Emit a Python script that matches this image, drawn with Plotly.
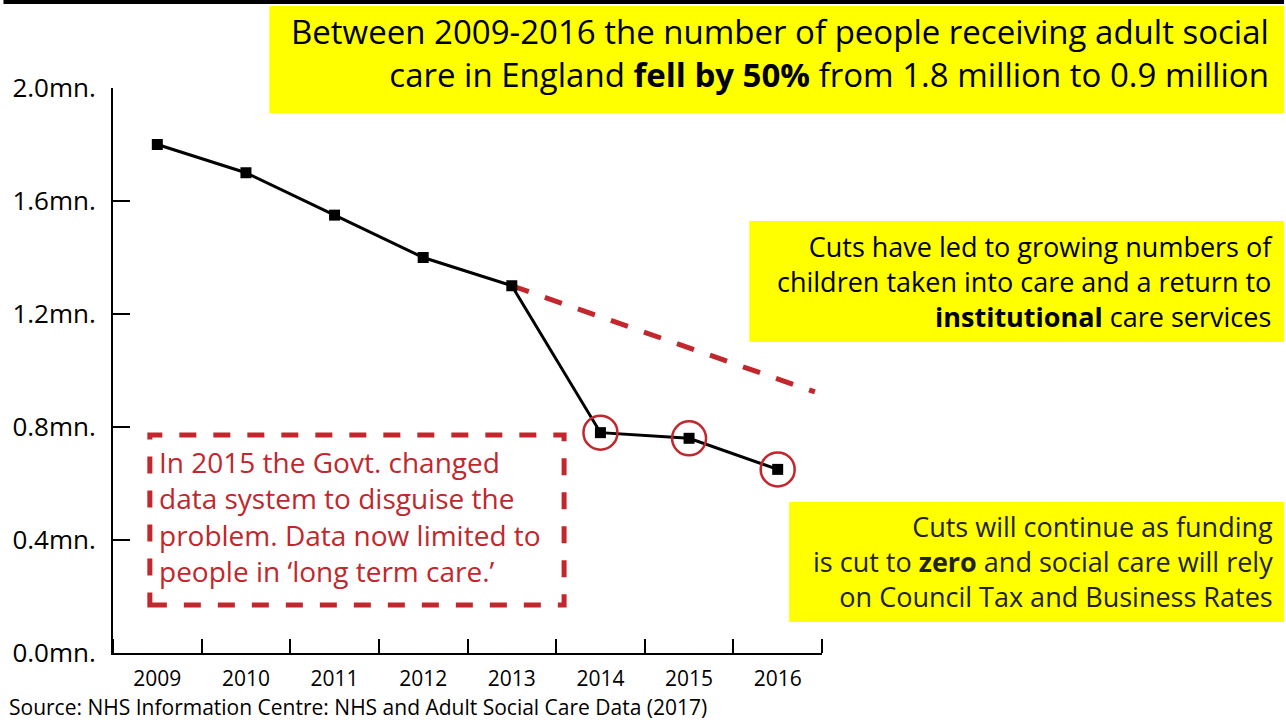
import plotly.graph_objects as go

# ---- data ----
years = [2009, 2010, 2011, 2012, 2013, 2014, 2015, 2016]
people_mn = [1.80, 1.70, 1.55, 1.40, 1.30, 0.78, 0.76, 0.65]
trend_years = [2013, 2016.42]
trend_mn = [1.30, 0.924]
circled_years = [2014, 2015, 2016]
circled_mn = [0.78, 0.76, 0.65]
ytick_vals = [0.0, 0.4, 0.8, 1.2, 1.6, 2.0]
ytick_text = ["0.0mn.", "0.4mn.", "0.8mn.", "1.2mn.", "1.6mn.", "2.0mn."]
xtick_text = [str(y) for y in years]

RED = "#C1272D"
YELLOW = "#FFFF00"
FONT = "Open Sans"

W, H = 1286, 722
L, R, T, B = 110, 464, 88, 69


def px(x):
    return (x - L) / (W - L - R)


def py(y):
    return (H - B - y) / (H - T - B)


fig = go.Figure()

fig.add_trace(go.Scatter(
    x=trend_years, y=trend_mn, mode="lines",
    line=dict(color=RED, width=5, dash="18px,17px"),
    hoverinfo="skip", showlegend=False))

fig.add_trace(go.Scatter(
    x=years, y=people_mn, mode="lines+markers",
    line=dict(color="black", width=3),
    marker=dict(symbol="square", size=11, color="black"),
    showlegend=False))

fig.add_trace(go.Scatter(
    x=circled_years, y=circled_mn, mode="markers",
    marker=dict(symbol="circle-open", size=34, color=RED,
                line=dict(color=RED, width=2.5)),
    hoverinfo="skip", showlegend=False))

shapes = [
    # top black bar
    dict(type="rect", xref="paper", yref="paper", x0=px(0), x1=px(W),
         y0=py(4), y1=py(0), fillcolor="black", line=dict(width=0), layer="below"),
    # title box
    dict(type="rect", xref="paper", yref="paper", x0=px(267), x1=px(W),
         y0=py(113), y1=py(6), fillcolor=YELLOW, line=dict(width=0), layer="below"),
    # right box 1
    dict(type="rect", xref="paper", yref="paper", x0=px(749), x1=px(W),
         y0=py(342), y1=py(221), fillcolor=YELLOW, line=dict(width=0), layer="below"),
    # right box 2
    dict(type="rect", xref="paper", yref="paper", x0=px(789), x1=px(W),
         y0=py(622), y1=py(502), fillcolor=YELLOW, line=dict(width=0), layer="below"),
    # dashed red box
    dict(type="rect", xref="paper", yref="paper", x0=px(147), x1=px(563),
         y0=py(605), y1=py(435), fillcolor="rgba(0,0,0,0)",
         line=dict(color=RED, width=5, dash="17px,17px")),
]

annotations = [
    dict(xref="paper", yref="paper", x=px(1273), y=py(53), xanchor="right",
         yanchor="middle", align="right", showarrow=False,
         text="Between 2009-2016 the number of people receiving adult social<br>"
              "care in England <b>fell by 50%</b> from 1.8 million to 0.9 million",
         font=dict(family=FONT, size=33, color="black")),
    dict(xref="paper", yref="paper", x=px(1277), y=py(281), xanchor="right",
         yanchor="middle", align="right", showarrow=False,
         text="Cuts have led to growing numbers of<br>"
              "children taken into care and a return to<br>"
              "<b>institutional</b> care services",
         font=dict(family=FONT, size=27, color="black")),
    dict(xref="paper", yref="paper", x=px(1277), y=py(561), xanchor="right",
         yanchor="middle", align="right", showarrow=False,
         text="Cuts will continue as funding<br>"
              "is cut to <b>zero</b> and social care will rely<br>"
              "on Council Tax and Business Rates",
         font=dict(family=FONT, size=27, color="#222222")),
    dict(xref="paper", yref="paper", x=px(154), y=py(516), xanchor="left",
         yanchor="middle", align="left", showarrow=False,
         text="In 2015 the Govt. changed<br>"
              "data system to disguise the<br>"
              "problem. Data now limited to<br>"
              "people in \u2018long term care.\u2019",
         font=dict(family=FONT, size=28, color=RED)),
    dict(xref="paper", yref="paper", x=px(5), y=py(722), xanchor="left",
         yanchor="bottom", align="left", showarrow=False, borderpad=0,
         text="Source: NHS Information Centre: NHS and Adult Social Care Data (2017)",
         font=dict(family=FONT, size=21, color="black")),
]

fig.update_layout(
    width=W, height=H,
    margin=dict(l=L, r=R, t=T, b=B, pad=0),
    paper_bgcolor="white", plot_bgcolor="white",
    shapes=shapes, annotations=annotations,
    showlegend=False,
    font=dict(family=FONT, color="black"),
    xaxis=dict(
        range=[2008.5, 2016.5], tickmode="array", tickvals=years, ticktext=xtick_text,
        ticks="", showgrid=False, zeroline=False,
        showline=True, linecolor="black", linewidth=2,
        tickfont=dict(family=FONT, size=21, color="black"),
        ticklabelstandoff=6,
        minor=dict(tick0=2008.5, dtick=1, ticks="inside", ticklen=14,
                   tickwidth=2, tickcolor="black", showgrid=False),
    ),
    yaxis=dict(
        range=[0, 2.0], tickmode="array", tickvals=ytick_vals, ticktext=ytick_text,
        ticks="inside", ticklen=17, tickwidth=2, tickcolor="black",
        showgrid=False, zeroline=False,
        showline=True, linecolor="black", linewidth=2,
        tickfont=dict(family=FONT, size=26, color="black"),
        ticklabelstandoff=10,
    ),
)

fig.write_html(
    "out.html",
    config={"displayModeBar": False},
    post_script="document.body.style.margin='0';document.body.style.overflow='hidden';",
)
